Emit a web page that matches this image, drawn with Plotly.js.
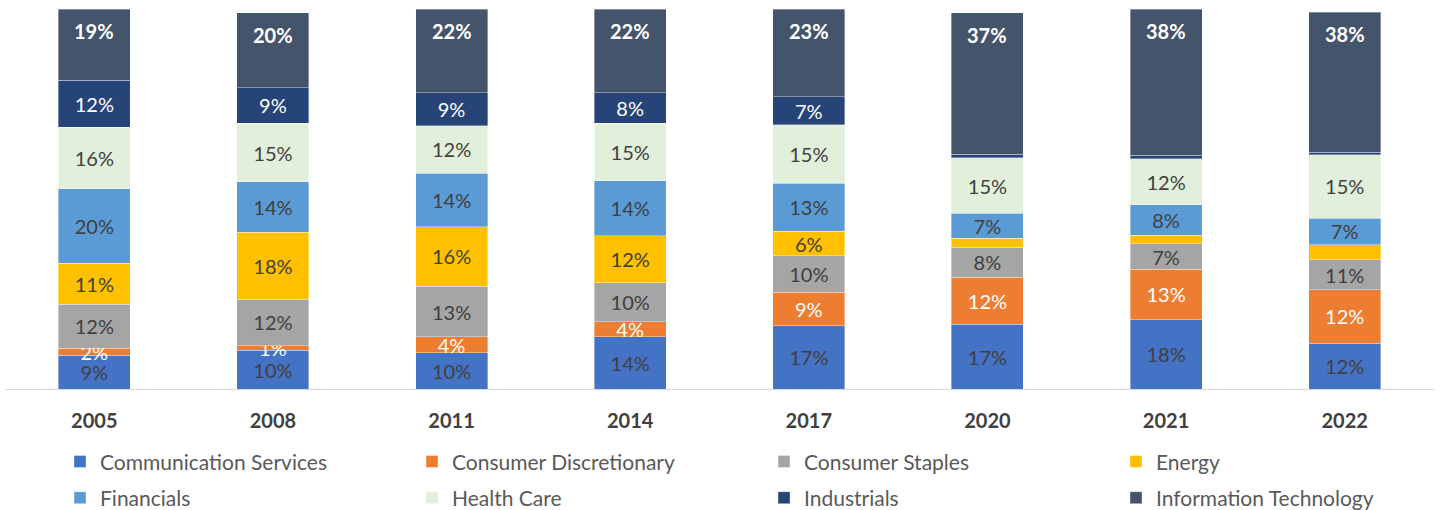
<!DOCTYPE html>
<html>
<head>
<meta charset="utf-8">
<script src="https://cdn.plot.ly/plotly-3.0.1.min.js"></script>
<style>
html,body{margin:0;padding:0;background:#fff;}
#chart{width:1440px;height:510px;}
</style>
</head>
<body>
<div id="chart"></div>
<script>
const years = ['2005','2008','2011','2014','2017','2020','2021','2022'];

const commServices = [8.9, 10.2, 9.6, 13.8, 16.7, 17.0, 18.2, 12.0];
const consDisc     = [1.8, 1.2, 4.1, 3.9, 8.8, 12.4, 13.4, 14.2];
const consStaples  = [11.6, 12.3, 13.4, 10.3, 9.6, 7.9, 6.6, 7.9];
const energy       = [10.8, 17.6, 15.7, 12.4, 6.4, 2.4, 2.3, 3.9];
const financials   = [19.6, 13.3, 14.1, 14.4, 12.7, 6.6, 8.0, 7.0];
const healthCare   = [16.2, 15.4, 12.4, 15.2, 15.4, 14.6, 12.2, 16.7];
const industrials  = [12.4, 9.4, 8.8, 8.1, 7.4, 0.9, 0.9, 0.7];
const infoTech     = [18.7, 19.7, 21.9, 21.9, 23.0, 37.3, 38.4, 36.8];

const commLabels = ['9%','10%','10%','14%','17%','17%','18%','12%'];
const discLabels = ['2%','1%','4%','4%','9%','12%','13%','12%'];
const stapLabels = ['12%','12%','13%','10%','10%','8%','7%','11%'];
const enerLabels = ['11%','18%','16%','12%','6%','','',''];
const finLabels  = ['20%','14%','14%','14%','13%','7%','8%','7%'];
const hcLabels   = ['16%','15%','12%','15%','15%','15%','12%','15%'];
const indLabels  = ['12%','9%','9%','8%','7%','','',''];
const itLabels   = ['19%','20%','22%','22%','23%','37%','38%','38%'];

const FONT = 'Lato, "Open Sans", sans-serif';
const DARK = '#404040';

function series(name, vals, labels, color, txtColor, legendId) {
  const t = {
    type: 'bar', name: name, x: years, y: vals,
    constraintext: 'none', cliponaxis: false,
    marker: {color: color, line: {color: 'rgba(255,255,255,0.6)', width: 0.6}},
    legend: legendId, hoverinfo: 'none'
  };
  if (labels) {
    t.text = labels;
    t.textposition = 'inside';
    t.insidetextanchor = 'middle';
    t.textfont = {family: FONT, size: 20, color: txtColor};
  } else {
    t.textposition = 'none';
  }
  return t;
}

const allSeries = [commServices, consDisc, consStaples, energy, financials, healthCare, industrials, infoTech];
const totals = years.map((_, i) => allSeries.reduce((s, arr) => s + arr[i], 0));

const data = [
  series('Communication Services', commServices, commLabels, '#4472C4', DARK, 'legend'),
  series('Consumer Discretionary', consDisc, discLabels, '#ED7D31', '#FFFFFF', 'legend'),
  series('Consumer Staples', consStaples, stapLabels, '#A5A5A5', DARK, 'legend'),
  series('Energy', energy, enerLabels, '#FFC000', DARK, 'legend'),
  series('Financials', financials, finLabels, '#5B9BD5', DARK, 'legend2'),
  series('Health Care', healthCare, hcLabels, '#E2EFDA', DARK, 'legend2'),
  series('Industrials', industrials, indLabels, '#264478', '#FFFFFF', 'legend2'),
  series('Information Technology', infoTech, null, '#44546A', '#FFFFFF', 'legend2')
];

// IT labels placed near the top end of each bar (inside end), from the data totals
const annotations = years.map((yr, i) => ({
  x: i, y: Math.min(totals[i], 100), xref: 'x', yref: 'y',
  text: itLabels[i], showarrow: false, yanchor: 'middle', yshift: -22,
  font: {family: FONT, size: 20, color: '#FFFFFF', weight: 'bold'}
}));

const legendBase = {
  orientation: 'h', entrywidth: 307, entrywidthmode: 'pixels',
  x: 0.0385, xanchor: 'left', yanchor: 'middle',
  font: {family: FONT, size: 21, color: '#595959'},
  bgcolor: 'rgba(0,0,0,0)', traceorder: 'normal', itemclick: false
};

const layout = {
  width: 1440, height: 510,
  margin: {l: 5, r: 6, t: 9, b: 121, autoexpand: false},
  paper_bgcolor: '#FFFFFF', plot_bgcolor: '#FFFFFF',
  barmode: 'stack', bargap: 0.597,
  showlegend: true,
  legend: Object.assign({}, legendBase, {y: -0.192}),
  legend2: Object.assign({}, legendBase, {y: -0.287}),
  annotations: annotations,
  xaxis: {
    type: 'category', showgrid: false, zeroline: false,
    range: [-0.5, years.length - 0.5], autorange: false,
    showline: true, linecolor: '#D9D9D9', linewidth: 1,
    ticks: '', ticklabelstandoff: 14,
    tickfont: {family: FONT, size: 20, color: DARK, weight: 'bold'}
  },
  yaxis: {range: [0, 100.1], visible: false, showgrid: false, zeroline: false},
  font: {family: FONT}
};

Plotly.newPlot('chart', data, layout, {displayModeBar: false, staticPlot: true});
</script>
</body>
</html>
